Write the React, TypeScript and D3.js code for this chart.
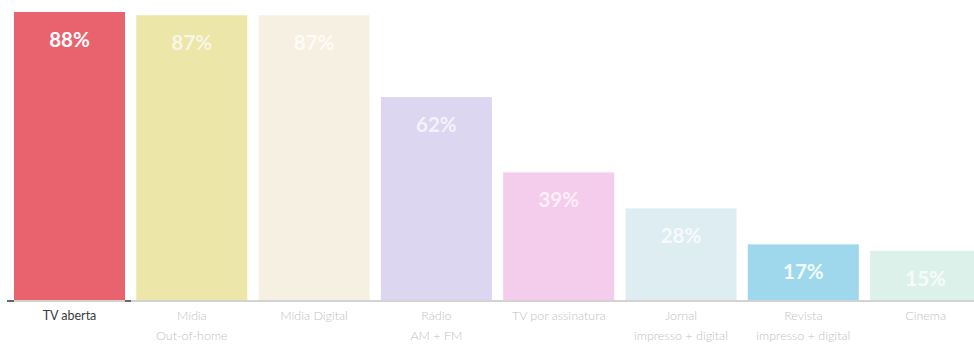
import React from "react";
import * as d3 from "d3";

const categories = ["TV aberta", "Mídia Out-of-home", "Mídia Digital", "Rádio AM + FM", "TV por assinatura", "Jornal impresso + digital", "Revista impresso + digital", "Cinema"];
const labelLines = [["TV aberta"], ["Mídia", "Out-of-home"], ["Mídia Digital"], ["Rádio", "AM + FM"], ["TV por assinatura"], ["Jornal", "impresso + digital"], ["Revista", "impresso + digital"], ["Cinema"]];
const values = [88, 87, 87, 62, 39, 28, 17, 15];
const colors = ["#E9636E", "#ECE6A8", "#F6F0E2", "#DCD6F0", "#F4CDEC", "#DEEDF2", "#9FD8EC", "#DDF1EB"];
const labelColors = ["#3a3a3a", "#c2c2c2", "#c2c2c2", "#c2c2c2", "#c2c2c2", "#c2c2c2", "#c2c2c2", "#c2c2c2"];
const valueLabelColors = ["#ffffff", "#f8f6e6", "#fdfbf6", "#f4f2fb", "#fbeef8", "#f6fafc", "#f4fbfe", "#f5fbf9"];

const W = 974;
const H = 347;
const baseY = 300;

export default function App() {
  const step = 122.3;
  const pad = 11.3 / step;
  const x0 = 14 - (pad * step) / 2;
  const x = d3.scaleBand<string>().domain(categories).range([x0, x0 + categories.length * step]).paddingInner(pad).paddingOuter(pad / 2);
  const y = d3.scaleLinear().domain([0, 88]).range([baseY, 12]);
  const font = "Lato, 'Open Sans', sans-serif";
  return (
    <div style={{ position: "absolute", left: 0, top: 0 }}>
      <svg width={W} height={H} style={{ display: "block", background: "#fff" }}>
        {categories.map((c, i) => (
          <rect key={c} x={x(c)} y={y(values[i])} width={x.bandwidth()} height={baseY - y(values[i])} fill={colors[i]} />
        ))}
        <line x1={7} x2={W} y1={baseY + 1} y2={baseY + 1} stroke="#a8a8a8" strokeWidth={1.2} />
        <line x1={7} x2={14} y1={baseY + 1} y2={baseY + 1} stroke="#444" strokeWidth={1.5} />
        <line x1={x(categories[0])! + x.bandwidth()} x2={x(categories[0])! + x.bandwidth() + 6} y1={baseY + 1} y2={baseY + 1} stroke="#444" strokeWidth={1.5} />
        {categories.map((c, i) => (
          <text key={"v" + c} x={x(c)! + x.bandwidth() / 2} y={y(values[i]) + 27} textAnchor="middle" dominantBaseline="central" fill={valueLabelColors[i]} fontFamily={font} fontWeight={700} fontSize={20.5}>
            {values[i] + "%"}
          </text>
        ))}
        {categories.map((c, i) => (
          <text key={"c" + c} x={x(c)! + x.bandwidth() / 2} textAnchor="middle" fill={labelColors[i]} fontFamily={font} fontWeight={i === 0 ? 400 : 300} fontSize={12.5}>
            {labelLines[i].map((l, j) => (
              <tspan key={j} x={x(c)! + x.bandwidth() / 2} y={320 + j * 20}>{l}</tspan>
            ))}
          </text>
        ))}
      </svg>
    </div>
  );
}
